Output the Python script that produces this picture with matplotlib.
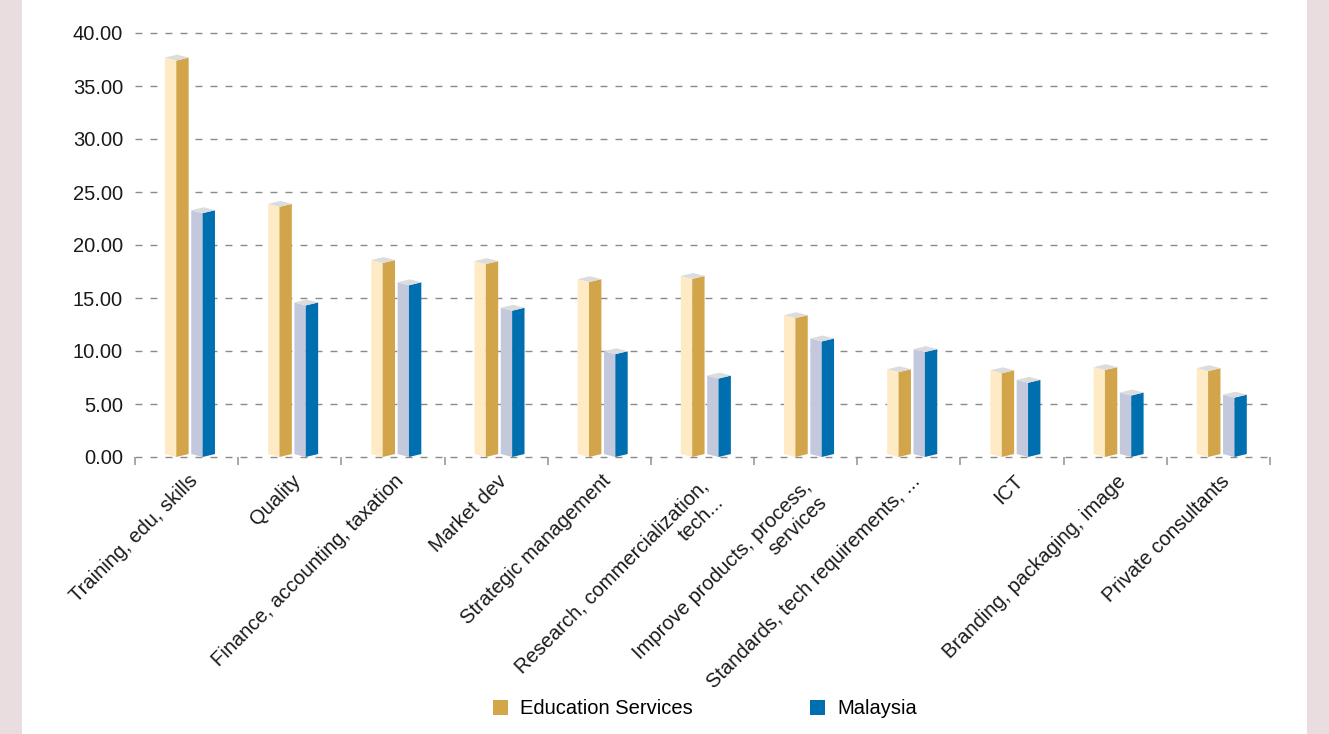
import matplotlib
matplotlib.use('Agg')
import matplotlib.pyplot as plt
import matplotlib.transforms as mtransforms
from matplotlib.patches import Patch, Rectangle

plt.rcParams['font.family'] = ['Liberation Sans', 'DejaVu Sans']

# --- data ---
categories = [
    "Training, edu, skills", "Quality", "Finance, accounting, taxation", "Market dev",
    "Strategic management", "Research, commercialization,\ntech...",
    "Improve products, process,\nservices", "Standards, tech requirements, ...",
    "ICT", "Branding, packaging, image", "Private consultants",
]
edu = [37.4, 23.6, 18.3, 18.2, 16.5, 16.8, 13.1, 8.0, 7.9, 8.2, 8.1]
mys = [23.0, 14.3, 16.2, 13.8, 9.7, 7.4, 10.9, 9.9, 7.0, 5.8, 5.6]
series = ["Education Services", "Malaysia"]
yticks = [0, 5, 10, 15, 20, 25, 30, 35, 40]

# colours: (front face, side face)
EDU_COL = ("#FEEBC5", "#D3A54B")
MYS_COL = ("#C4C8DC", "#006FB0")
TOP_COL = "#DCDCDC"

W_LIGHT = 0.11
W_DARK = 0.12
D = 0.28  # fake depth in data units (~3 px)
FS = 14.5


def bar3d(ax, x0, v, light, dark):
    xm = x0 + W_LIGHT
    xr = xm + W_DARK
    ax.fill([x0, xm, xm, x0], [D, 0, v, v + D], color=light, lw=0, zorder=3)
    ax.fill([xm, xr, xr, xm], [0, D, v + D, v], color=dark, lw=0, zorder=3)
    ax.fill([x0, xm, xr, x0 + W_DARK], [v + D, v, v + D, v + 2 * D],
            color=TOP_COL, lw=0, zorder=3)


fig = plt.figure(figsize=(13.29, 7.34), dpi=100, facecolor="#E9DDE0")
fig.patches.append(Rectangle((22 / 1329, 0), (1307 - 22) / 1329, 1,
                             transform=fig.transFigure, facecolor="white",
                             edgecolor="none", zorder=-10))

ax = fig.add_axes([135 / 1329, 1 - 457 / 734, (1270 - 135) / 1329, (457 - 33) / 734])
ax.set_facecolor("none")

for i, (a, b) in enumerate(zip(edu, mys)):
    bar3d(ax, i - 0.21, a, *EDU_COL)
    bar3d(ax, i + 0.045, b, *MYS_COL)

ax.set_xlim(-0.5, len(categories) - 0.5)
ax.set_ylim(0, 40)
ax.set_yticks(yticks)
ax.set_yticklabels([f"{t:.2f}" for t in yticks])
ax.tick_params(axis="y", length=0, pad=8.6, labelsize=FS, labelcolor="#1a1a1a")
ax.yaxis.grid(True, linestyle=(0, (5, 5.8)), color="#8a8a8a", lw=1.0, zorder=0)
for gl in ax.get_ygridlines():
    gl.set_clip_on(False)

for s in ax.spines.values():
    s.set_visible(False)

ax.set_xticks([])
ax.set_xticks([i - 0.5 for i in range(len(categories) + 1)], minor=True)
ax.tick_params(axis="x", which="minor", length=5.8, width=1.2, color="#9a9a9a")
ax.xaxis.get_minor_ticks()[-1].tick1line.set_color("#555555")

# category labels, rotated
trans = mtransforms.blended_transform_factory(ax.transData, ax.transAxes)
for i, lab in enumerate(categories):
    if "\n" in lab:
        dx, dy = 20, 44
    else:
        dx, dy = 12, 25
    off = mtransforms.ScaledTranslation(dx / 100, -dy / 100, fig.dpi_scale_trans)
    ax.text(i, 0, lab, transform=trans + off, rotation=45, rotation_mode="anchor",
            ha="right", va="baseline", multialignment="right",
            fontsize=FS, color="#1a1a1a")

handles = [Patch(facecolor="#D4A64A", edgecolor="none"),
           Patch(facecolor="#006FB0", edgecolor="none")]
fig.legend(handles, series, loc="center", bbox_to_anchor=(705 / 1329, 1 - 709 / 734),
           ncol=2, frameon=False, fontsize=FS, handlelength=0.75, handleheight=0.75,
           handletextpad=0.6, columnspacing=5.8)

fig.savefig("out.png", dpi=100, facecolor=fig.get_facecolor())
